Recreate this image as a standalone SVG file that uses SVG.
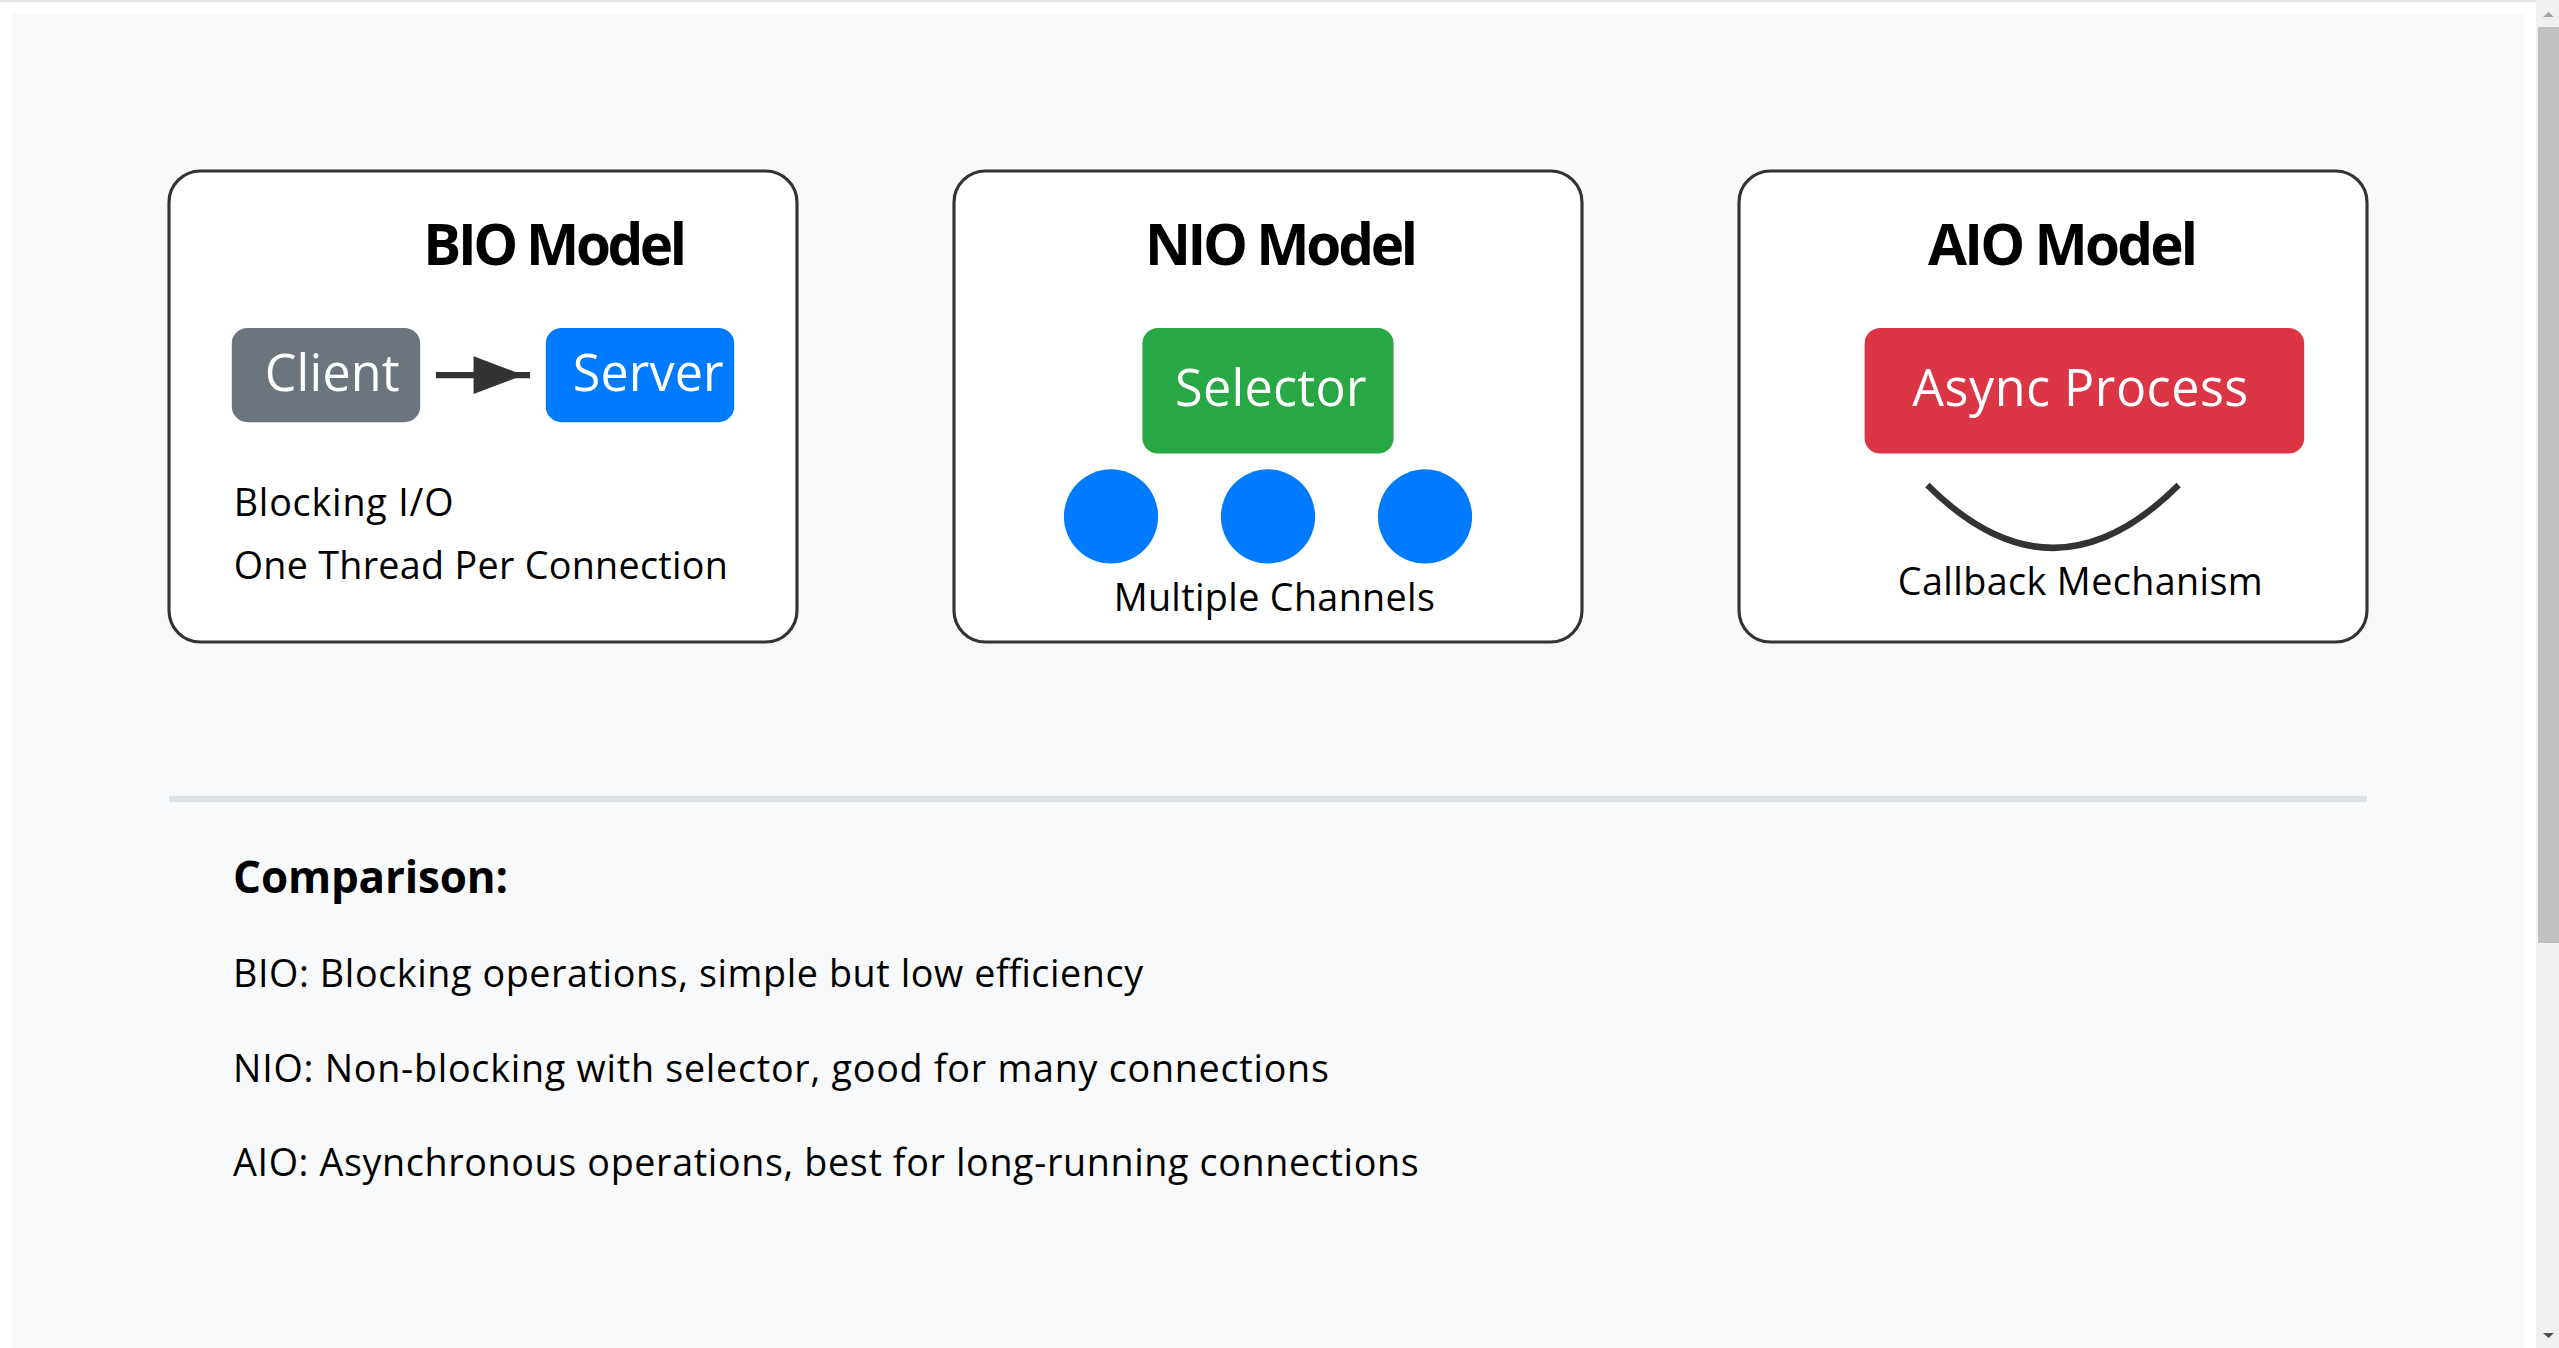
<svg xmlns="http://www.w3.org/2000/svg" width="2559" height="1348" viewBox="0 0 2559 1348">
<defs>
<style>
.box{fill:#fff;stroke:#333;stroke-width:1}
.t{font-family:"Open Sans","Noto Sans","Liberation Sans",sans-serif;fill:#000}
.title{font-weight:bold;font-size:18px;text-anchor:middle}
.lbl{font-size:16px;fill:#fff;text-anchor:middle}
.sm{font-size:12px}
.mid{text-anchor:middle}
.cmp{font-weight:bold;font-size:14px}
.conn{stroke:#333;stroke-width:2;fill:none}
</style>
<marker id="arrow" markerWidth="8" markerHeight="6" refX="9" refY="3" orient="auto" overflow="visible">
<polygon points="0 0, 8 3, 0 6" fill="#333"/>
</marker>
</defs>
<rect x="0" y="0" width="2559" height="1348" fill="#fff"/>
<rect x="0" y="0" width="2536" height="2" fill="#e7e2ea"/>
<rect x="12" y="14" width="2512" height="1334" fill="#f8f9fa"/>
<g id="scrollbar">
<rect x="2536" y="0" width="23" height="1348" fill="#f0f0f0"/>
<rect x="2538" y="27" width="21" height="916" fill="#c1c1c1"/>
<polygon points="2543,17 2554,17 2548.5,12" fill="#a3a3a3"/>
<polygon points="2543,1333 2554,1333 2548.5,1338" fill="#505050"/>
</g>
<g transform="translate(12,14) scale(3.14)">
<g id="bio">
<rect class="box" x="50" y="50" width="200" height="150" rx="10"/>
<text class="t title" x="173" y="80" textLength="84">BIO Model</text>
<g id="client">
<rect x="70" y="100" width="60" height="30" rx="5" fill="#6c757d"/>
<text class="t lbl" x="102" y="120" textLength="43">Client</text>
</g>
<g id="server">
<rect x="170" y="100" width="60" height="30" rx="5" fill="#007bff"/>
<text class="t lbl" x="202.6" y="120" textLength="48">Server</text>
</g>
<text class="t sm" x="70.6" y="160" textLength="70">Blocking I/O</text>
<text class="t sm" x="70.6" y="180" textLength="157.4">One Thread Per Connection</text>
</g>
<g id="nio">
<rect class="box" x="300" y="50" width="200" height="150" rx="10"/>
<text class="t title" x="404.3" y="80" textLength="87">NIO Model</text>
<g id="selector">
<rect x="360" y="100" width="80" height="40" rx="5" fill="#28a745"/>
<text class="t lbl" x="400.9" y="125" textLength="61">Selector</text>
</g>
<g id="channels">
<circle cx="350" cy="160" r="15" fill="#007bff"/>
<circle cx="400" cy="160" r="15" fill="#007bff"/>
<circle cx="450" cy="160" r="15" fill="#007bff"/>
</g>
<text class="t sm mid" x="402" y="190" textLength="102.3">Multiple Channels</text>
</g>
<g id="aio">
<rect class="box" x="550" y="50" width="200" height="150" rx="10"/>
<text class="t title" x="653.2" y="80" textLength="86">AIO Model</text>
<g id="async">
<rect x="590" y="100" width="140" height="40" rx="5" fill="#dc3545"/>
<text class="t lbl" x="658.7" y="125" textLength="107">Async Process</text>
</g>
<text class="t sm mid" x="658.7" y="185" textLength="116.2">Callback Mechanism</text>
</g>
<g id="connectors">
<line class="conn" x1="135" y1="115" x2="165" y2="115" marker-end="url(#arrow)"/>
<path class="conn" d="M610 150 Q650 190 690 150"/>
</g>
<line x1="50" y1="250" x2="750" y2="250" stroke="#dee2e6" stroke-width="2"/>
<g id="comparison">
<text class="t cmp" x="70.4" y="280" textLength="87.6">Comparison:</text>
<text class="t sm" x="70.4" y="310" textLength="289.8">BIO: Blocking operations, simple but low efficiency</text>
<text class="t sm" x="70.4" y="340" textLength="349">NIO: Non-blocking with selector, good for many connections</text>
<text class="t sm" x="70.4" y="370" textLength="377.6">AIO: Asynchronous operations, best for long-running connections</text>
</g>
</g>
</svg>
